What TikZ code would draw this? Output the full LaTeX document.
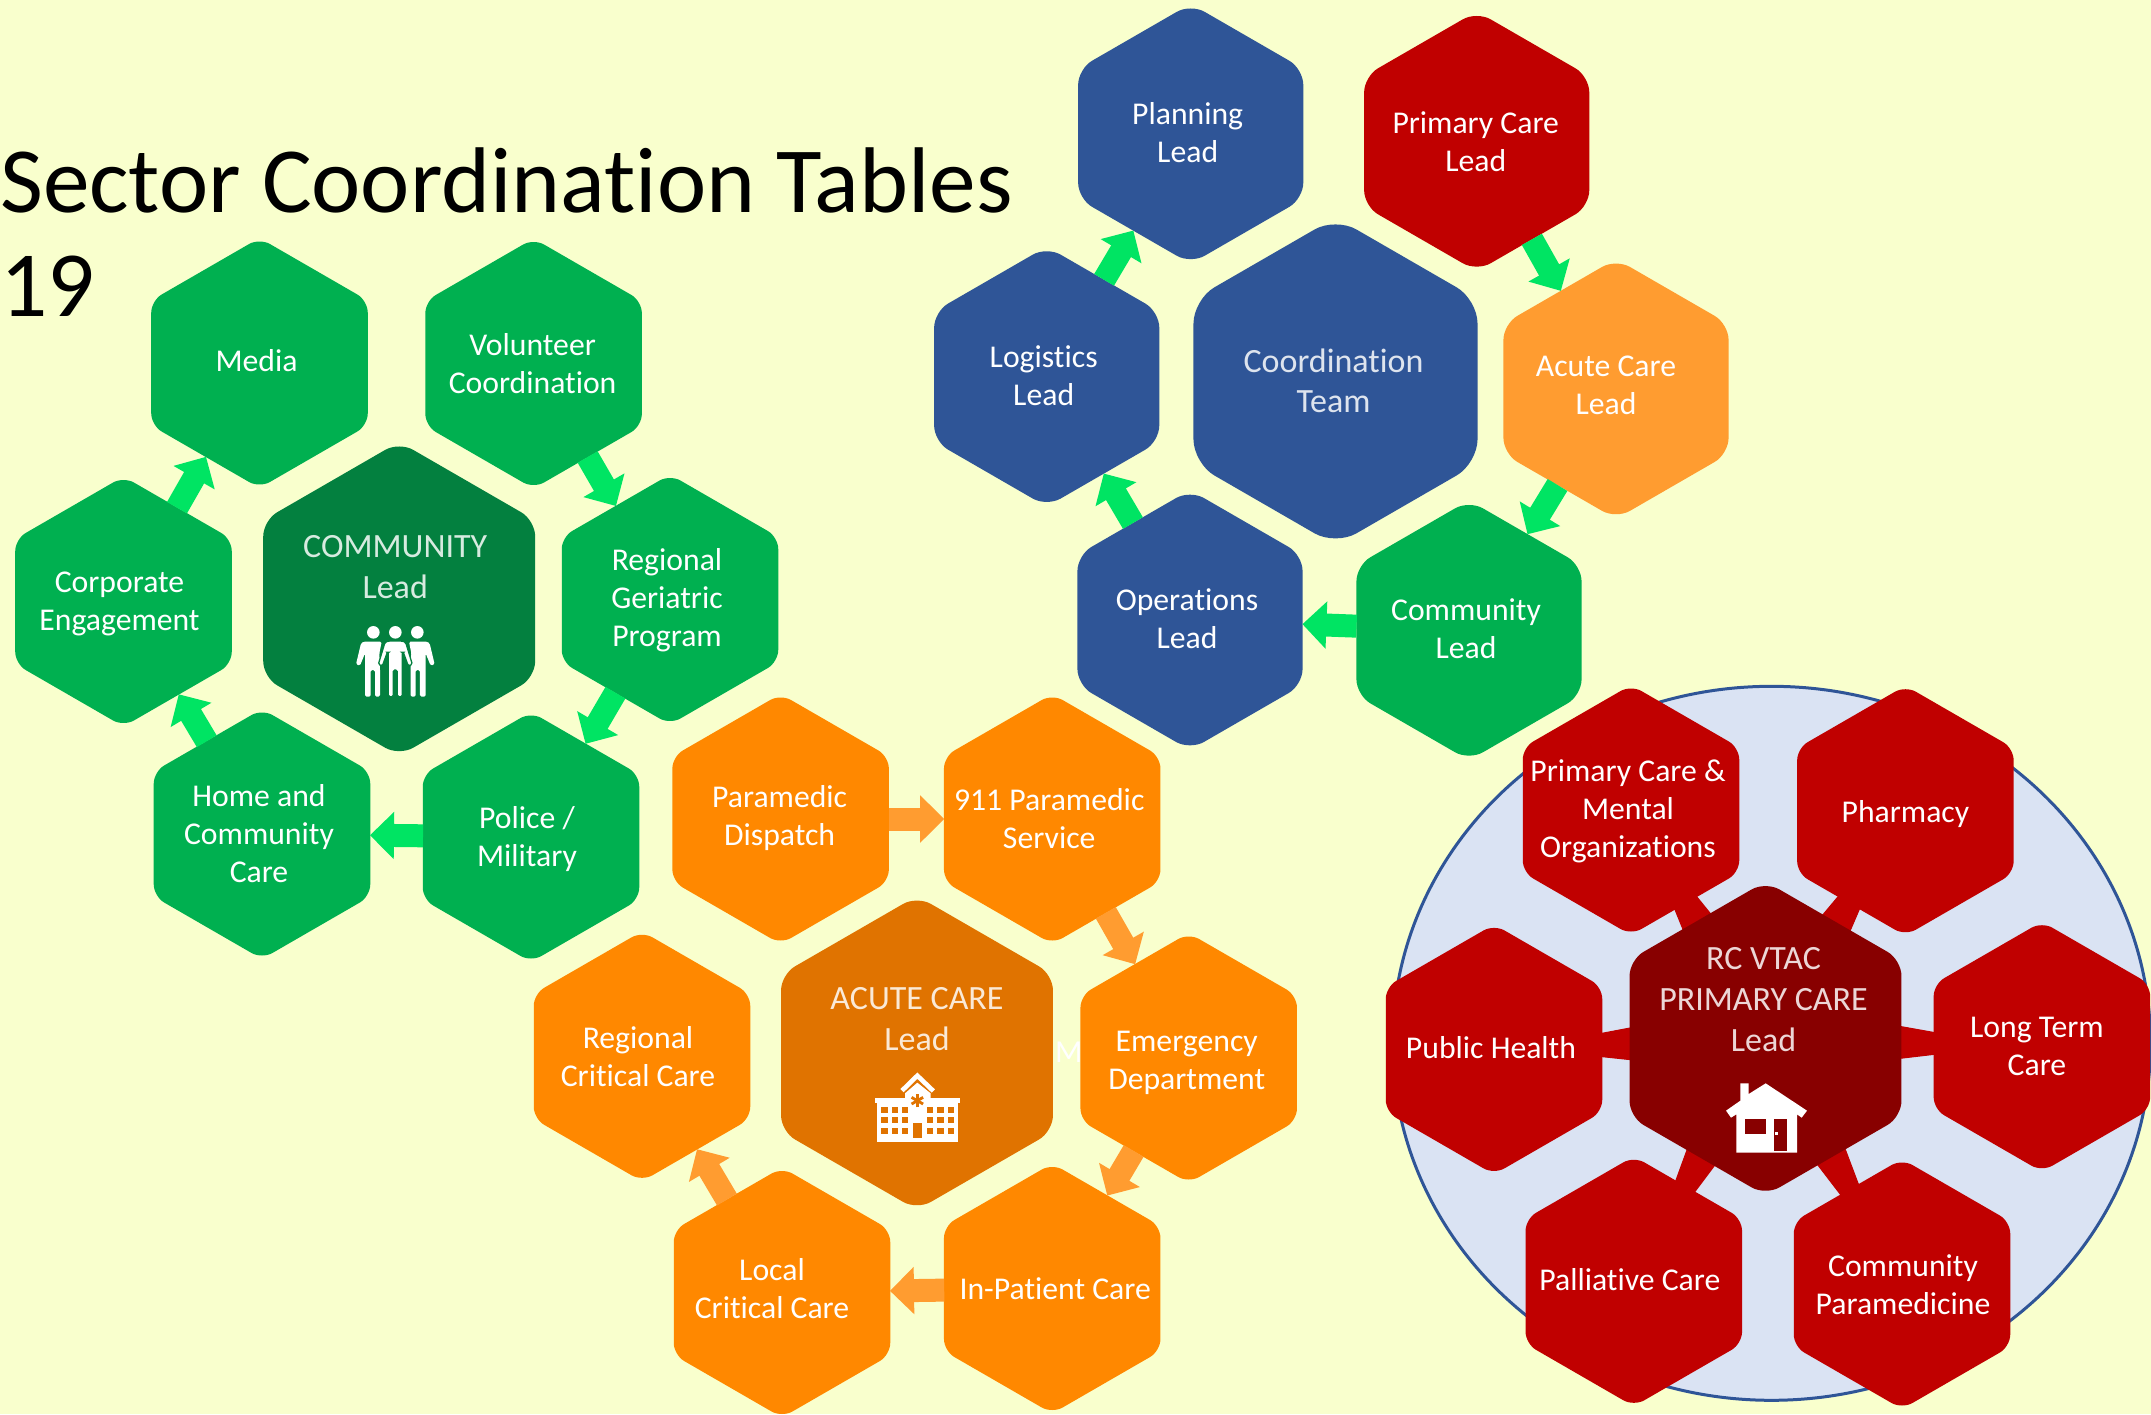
\documentclass[tikz,border=0pt]{standalone}
\usepackage{fontspec}
\setmainfont{Carlito}[Ligatures=CommonOff]
\usetikzlibrary{shapes.geometric,arrows.meta,calc}
\definecolor{bgc}{HTML}{F9FFCD}
\definecolor{gh}{HTML}{00B050}
\definecolor{gd}{HTML}{03803F}
\definecolor{ga}{HTML}{00E463}
\definecolor{oh}{HTML}{FF8800}
\definecolor{od}{HTML}{E07300}
\definecolor{oa}{HTML}{FF9C30}
\definecolor{rh}{HTML}{C00000}
\definecolor{rd}{HTML}{880000}
\definecolor{bh}{HTML}{2F5597}
\definecolor{cf}{HTML}{DAE3F3}
% hexagon label: dx, dy (image px), lines; takes no room in the node
\newcommand\hx[3]{\raisebox{\dimexpr -#2pt - 9pt\relax}[0pt][0pt]{\makebox[0pt]{\hspace{\dimexpr 2pt*#1\relax}\begin{tabular}{@{}c@{}}#3\end{tabular}}}}
\newcommand\arc[3]{\draw[#1] ($(#2)!108pt!(#3)$) -- ($(#3)!108pt!(#2)$);}
\newcommand\arb[3]{\draw[#1] ($(#2)!112.5pt!(#3)$) -- ($(#3)!112.5pt!(#2)$);}
\newcommand\spoke[1]{\draw[spokeline] (rclead) -- ($(rclead)!246pt!(#1)$);}
\tikzset{
  hexa/.style={regular polygon,regular polygon sides=6,shape border rotate=30,
    minimum size=250pt,inner sep=0pt,outer sep=0pt,rounded corners=12pt,fill=#1,text=white,
    font=\fontsize{31.7}{38}\selectfont},
  hexb/.style={hexa=#1,minimum size=260pt,rounded corners=16pt},
  leadhex/.style={hexa=#1,minimum size=314pt,rounded corners=16pt,font=\fontsize{34}{41}\selectfont,text=white!84!#1},
  bigblue/.style={hexa=#1,minimum size=328pt,rounded corners=24pt,font=\fontsize{34}{40}\selectfont,text=white!84!#1},
  blockarrow/.style={line width=23pt,draw=#1,-{Triangle[length=24pt,width=46pt]}},
  spokeline/.style={line width=1pt,draw=rh,-{Triangle[length=116pt,width=34pt,fill=rh]}},
  iconfill/.style={fill=white,draw=none},
}
\begin{document}
\begin{tikzpicture}[x=1pt,y=-1pt]
\useasboundingbox (0,0) rectangle (2151,1414);
\fill[bgc] (0,0) rectangle (2151,1414);
\node[anchor=base west,inner sep=0pt,font=\fontsize{93.3}{104}\selectfont] (title) at (0,212)
  {\begin{tabular}[t]{@{}l@{}}Sector Coordination Tables\\19\end{tabular}};
\node[ellipse,minimum width=758pt,minimum height=714pt,inner sep=0pt,fill=cf,draw=bh,line width=3pt] (disc) at (1771.5,1043.3) {};
\node[anchor=base west,inner sep=0pt,text=white,font=\fontsize{32}{38}\selectfont] (stray) at (1055,1062) {M};

% community
\node[hexa=gh] (media) at (259.5,363) {\hx{-3}{-2}{Media}};
\node[hexa=gh] (volunteer) at (533.6,363.5) {\hx{-1}{1}{Volunteer\\Coordination}};
\node[hexa=gh] (regional) at (670,599.5) {\hx{-3}{-1}{Regional\\Geriatric\\Program}};
\node[hexa=gh] (corporate) at (123.5,601.5) {\hx{-4}{0}{Corporate\\Engagement}};
\node[hexa=gh] (home) at (262,834) {\hx{-3}{0}{Home and\\Community\\Care}};
\node[hexa=gh] (police) at (531,837) {\hx{-4}{0}{Police /\\Military}};
\node[leadhex=gd] (commlead) at (399.2,598.8) {\hx{-4}{-32}{COMMUNITY\\Lead}};

% coordination team
\node[hexb=bh] (planning) at (1190.7,133.8) {\hx{-3}{-1}{Planning\\Lead}};
\node[hexb=rh] (pclead) at (1476.7,141.3) {\hx{-1}{1}{Primary Care\\Lead}};
\node[hexb=bh] (logistics) at (1046.7,376.6) {\hx{-3}{0}{Logistics\\Lead}};
\node[bigblue=bh] (coord) at (1335.5,381.4) {\hx{-2}{0}{Coordination\\Team}};
\node[hexb=oa] (aclead) at (1616,388.9) {\hx{-10}{-4}{Acute Care\\Lead}};
\node[hexb=bh] (operations) at (1190,620) {\hx{-3}{-1}{Operations\\Lead}};
\node[hexb=gh] (cmlead) at (1469,630.3) {\hx{-3}{-1}{Community\\Lead}};

% acute care
\node[hexa=oh] (dispatch) at (780.6,819) {\hx{-1}{-3}{Paramedic\\Dispatch}};
\node[hexa=oh] (service) at (1052.2,819) {\hx{-3}{0}{911 Paramedic\\Service}};
\node[hexa=oh] (emergency) at (1188.7,1058) {\hx{-2}{2}{Emergency\\Department}};
\node[hexa=oh] (inpatient) at (1052.2,1288.5) {\hx{3}{1}{In-Patient Care}};
\node[hexa=oh] (local) at (782,1292.5) {\hx{-10}{-3}{Local\\Critical Care}};
\node[hexa=oh] (regcrit) at (642,1056.3) {\hx{-4}{1}{Regional\\Critical Care}};
\node[leadhex=od] (acutelead) at (917,1052.9) {\hx{0}{-34}{ACUTE CARE\\Lead}};

% primary care
\coordinate (rcc) at (1765.5,1038.4);
\coordinate (rclead) at (rcc);
\coordinate (pcs) at (1631,810);
\coordinate (phs) at (1905.4,810.7);
\coordinate (pus) at (1494,1049.4);
\coordinate (lts) at (2041.9,1046.7);
\coordinate (pas) at (1633.8,1281.3);
\coordinate (cos) at (1902,1284);
\spoke{pcs}\spoke{phs}\spoke{pus}\spoke{lts}\spoke{pas}\spoke{cos}
\node[hexa=rh] (pcmental) at (pcs) {\hx{-3}{-1}{Primary Care \&\\Mental\\Organizations}};
\node[hexa=rh] (pharmacy) at (phs) {\hx{0}{1}{Pharmacy}};
\node[hexa=rh] (publichealth) at (pus) {\hx{-3}{-1}{Public Health}};
\node[hexa=rh] (longterm) at (lts) {\hx{-5}{-1}{Long Term\\Care}};
\node[hexa=rh] (palliative) at (pas) {\hx{-4}{-1}{Palliative Care}};
\node[hexa=rh] (paramedicine) at (cos) {\hx{1}{1}{Community\\Paramedicine}};
\node[leadhex=rd] (rcvtac) at (rcc) {\hx{-2}{-39}{RC VTAC\\PRIMARY CARE\\Lead}};

% arrows
\arc{blockarrow=ga}{corporate}{media}
\arc{blockarrow=ga}{volunteer}{regional}
\arc{blockarrow=ga}{regional}{police}
\arc{blockarrow=ga}{police}{home}
\arc{blockarrow=ga}{home}{corporate}
\arb{blockarrow=ga}{logistics}{planning}
\arb{blockarrow=ga}{operations}{logistics}
\arb{blockarrow=ga}{cmlead}{operations}
\arb{blockarrow=ga}{pclead}{aclead}
\arb{blockarrow=ga}{aclead}{cmlead}
\arc{blockarrow=oa}{dispatch}{service}
\arc{blockarrow=oa}{service}{emergency}
\arc{blockarrow=oa}{emergency}{inpatient}
\arc{blockarrow=oa}{inpatient}{local}
\arc{blockarrow=oa}{local}{regcrit}

% people icon
\begin{scope}[shift={(commlead)},shift={(-54.2,16.2)},x=.3333pt,y=-.3333pt]
  \fill[iconfill] (85,52) circle[radius=6.3pt] (151,52) circle[radius=6.3pt] (217,52) circle[radius=6.3pt];
  \path[iconfill,rounded corners=1.5pt] (48,85)--(55,80)--(110,80)--(103,115)--(105,160)--(105,245)--(90,245)--(90,165)--(77,165)--(77,245)--(60,245)--(60,115)--(45,152)--(33,148)--cycle;
  \path[iconfill,rounded corners=1.5pt] (254,85)--(247,80)--(192,80)--(199,115)--(197,160)--(197,245)--(212,245)--(212,165)--(225,165)--(225,245)--(242,245)--(242,115)--(257,152)--(269,148)--cycle;
  \path[fill=white,draw=gd,line width=1.3pt,rounded corners=1.5pt] (120,82)--(130,78)--(172,78)--(182,82)--(202,148)--(190,153)--(175,112)--(172,112)--(172,245)--(157,245)--(157,165)--(145,165)--(145,245)--(130,245)--(130,112)--(127,112)--(112,153)--(100,148)--cycle;
\end{scope}

% hospital icon
\begin{scope}[shift={(acutelead)},shift={(-57,7.1)},x=.3333pt,y=-.3333pt]
  \draw[white,line width=4.6pt] (126,92)--(172,47)--(220,93);
  \fill[iconfill] (135,118)--(135,100)--(172,68)--(212,100)--(212,118)--cycle;
  \fill[iconfill] (45,115) rectangle (300,130);
  \fill[iconfill] (52,130) rectangle (295,245);
  \foreach \xa in {64,95,126,201,232,263}
    \foreach \ya in {141,172,203}
      \fill[od] (\xa,\ya) rectangle ++(19,18);
  \fill[od] (160,190) rectangle (187,234);
  \foreach \ang in {30,90,150}
    \draw[od,line width=2.8pt] (172,122) ++(\ang:20) -- ++(\ang+180:40);
\end{scope}

% house icon
\begin{scope}[shift={(rcvtac)},shift={(-50.5,31.6)},x=.3333pt,y=-.3333pt]
  \fill[iconfill] (76,40)--(101,40)--(101,72)--(152,40)--(276,122)--(260,143)--(246,133)--(246,248)--(64,248)--(64,133)--(48,143)--(33,122)--(76,92)--cycle;
  \fill[rd] (91,146) rectangle (154,193);
  \fill[rd] (178,146) rectangle (217,242);
  \fill[iconfill] (181,187) rectangle (190,196);
\end{scope}
\end{tikzpicture}
\end{document}
